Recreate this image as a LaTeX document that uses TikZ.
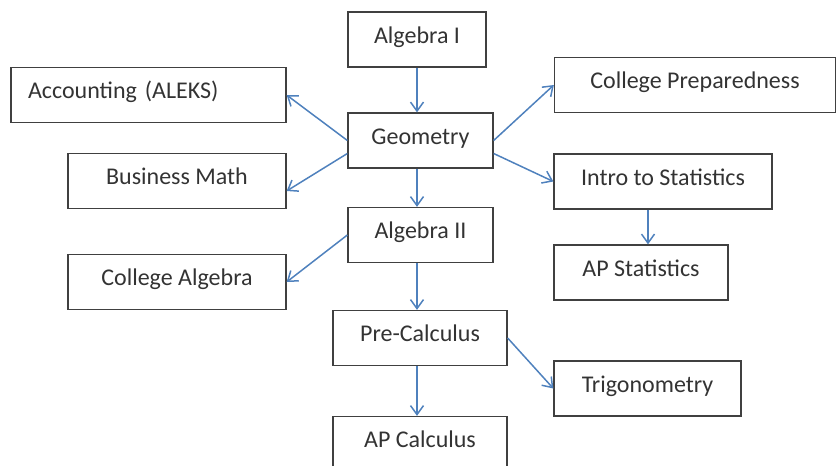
\documentclass[tikz,border=0pt]{standalone}
\usepackage{fontspec}
\setmainfont{Carlito}
\usepackage{xcolor}
\usepackage{tikz}
\usetikzlibrary{arrows.meta, positioning}

\definecolor{arrblue}{RGB}{79,129,189}
\definecolor{boxgray}{RGB}{64,64,64}

\begin{document}
\begin{tikzpicture}[
  x=1pt, y=-1pt,
  box/.style={draw=boxgray, line width=1.3pt, minimum height=55pt,
              inner sep=0pt, align=center, text height=14pt, text depth=7pt,
              font=\fontsize{24}{28}\selectfont, text=black!80},
  arr/.style={-{Straight Barb[length=9pt, width=13pt]}, draw=arrblue,
              line width=1.5pt},
]
  \useasboundingbox (0,0) rectangle (836,466);

  % Center column
  \node[box, minimum width=138pt] (alg1)    at (417,39.5)  {Algebra I};
  \node[box, minimum width=145pt] (geom)    at (420.5,140.5) {Geometry};
  \node[box, minimum width=145pt] (alg2)    at (420.5,235) {Algebra II};
  \node[box, minimum width=174pt] (precalc) at (420,338)   {Pre-Calculus};
  \node[box, minimum width=174pt] (apcalc)  at (420,444)   {AP Calculus};

  % Left column
  \node[box, minimum width=275pt, text width=241pt, inner xsep=17pt,
        align=left] (acct) at (148.5,95) {Accounting (ALEKS)};
  \node[box, minimum width=218pt] (bmath) at (177,181) {Business Math};
  \node[box, minimum width=218pt] (calg)  at (177,282) {College Algebra};

  % Right column
  \node[box, minimum width=281pt] (cprep)  at (695,85)    {College Preparedness};
  \node[box, minimum width=218pt] (intro)  at (663,181.5) {Intro to Statistics};
  \node[box, minimum width=174pt] (apstat) at (641,272.5) {AP Statistics};
  \node[box, minimum width=187pt] (trig)   at (647.5,388.5) {Trigonometry};

  \draw[arr] (alg1.south) -- (alg1.south |- geom.north);
  \draw[arr] (geom.south -| alg1) -- (alg2.north -| alg1);
  \draw[arr] (alg2.south -| alg1) -- (precalc.north -| alg1);
  \draw[arr] (precalc.south -| alg1) -- (apcalc.north -| alg1);

  \draw[arr] (geom.west) -- (acct.east);
  \draw[arr] ([yshift=-13pt]geom.west) -- ([yshift=-10pt]bmath.east);
  \draw[arr] (geom.east) -- (cprep.west);
  \draw[arr] ([yshift=-13pt]geom.east) -- (intro.west);
  \draw[arr] ([xshift=-15pt]intro.south) -- ([xshift=-15pt]intro.south |- apstat.north);
  \draw[arr] (alg2.west) -- (calg.east);
  \draw[arr] (precalc.east) -- (trig.west);
\end{tikzpicture}
\end{document}
